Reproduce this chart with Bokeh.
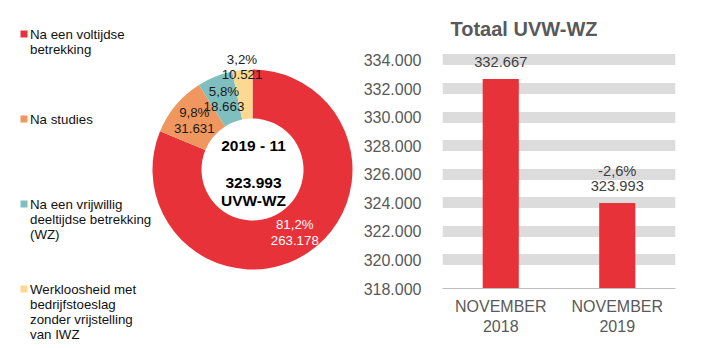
import math
from bokeh.plotting import figure
from bokeh.layouts import row
from bokeh.models import Range1d, FactorRange, FixedTicker, CustomJSTickFormatter
from bokeh.core.properties import value
from bokeh.embed import file_html
from bokeh.resources import INLINE

# ---------------- data ----------------
categories = [
    "Na een voltijdse\nbetrekking",
    "Na studies",
    "Na een vrijwillig\ndeeltijdse betrekking\n(WZ)",
    "Werkloosheid met\nbedrijfstoeslag\nzonder vrijstelling\nvan IWZ",
]
slice_values = [263178, 31631, 18663, 10521]
slice_colors = ["#e8323a", "#f0975f", "#7fbfbf", "#fdd891"]
period_label = "2019 - 11"
unit_label = "UVW-WZ"

bar_categories = ["NOVEMBER\n2018", "NOVEMBER\n2019"]
bar_values = [332667, 323993]
y_ticks = [318000, 320000, 322000, 324000, 326000, 328000, 330000, 332000, 334000]
bar_title = "Totaal UVW-WZ"

FONT = value("Liberation Sans")


def nl(n):
    return f"{n:,}".replace(",", ".")


def pct(f):
    return f"{f * 100:.1f}%".replace(".", ",")


# ---------------- donut ----------------
W1, H = 360, 348
p1 = figure(width=W1, height=H, x_range=Range1d(0, W1), y_range=Range1d(0, H),
            x_axis_type=None, y_axis_type=None, output_backend="svg",
            toolbar_location=None, min_border=0)
p1.frame_align = False
p1.grid.visible = False
p1.outline_line_color = None

cx, cy = 252, H - 169
total = sum(slice_values)
fracs = [v / total for v in slice_values]
starts, ends, mids = [], [], []
cum = 0.0
for f in fracs:
    starts.append(math.pi / 2 - 2 * math.pi * cum)
    mids.append(math.pi / 2 - 2 * math.pi * (cum + f / 2))
    cum += f
    ends.append(math.pi / 2 - 2 * math.pi * cum)

p1.annular_wedge(x=cx, y=cy, inner_radius=51, outer_radius=100,
                 inner_radius_units="screen", outer_radius_units="screen",
                 start_angle=starts, end_angle=ends, direction="clock",
                 fill_color=slice_colors, line_color=None)

lx, ly, lcol = [], [], []
for f, a in zip(fracs, mids):
    r = 103 if f < 0.04 else 76
    lx.append(cx + r * math.cos(a))
    ly.append(cy + r * math.sin(a))
    lcol.append("#ffffff" if f > 0.5 else "#1a1a1a")

p1.text(x=lx, y=[y + 7.7 for y in ly], text=[pct(f) for f in fracs],
        text_align="center", text_baseline="middle", text_font=FONT,
        text_font_size="13.3px", text_color=lcol)
p1.text(x=lx, y=[y - 7.7 for y in ly], text=[nl(v) for v in slice_values],
        text_align="center", text_baseline="middle", text_font=FONT,
        text_font_size="13.3px", text_color=lcol)

p1.text(x=[253, 253, 253], y=[H - 145, H - 182.5, H - 200],
        text=[period_label, nl(total), unit_label],
        text_align="center", text_baseline="middle", text_font=FONT,
        text_font_size="15.5px", text_font_style="bold", text_color="#000000")

# legend
sq_x, sq_y, sq_c = [], [], []
tx, ty, tt = [], [], []
for i, cat in enumerate(categories):
    y0 = 33.5 + i * 85
    sq_x.append(23.5)
    sq_y.append(H - y0)
    sq_c.append(slice_colors[i])
    for j, line in enumerate(cat.split("\n")):
        tx.append(29.5)
        ty.append(H - (y0 + j * 15.3))
        tt.append(line)
p1.scatter(x=sq_x, y=sq_y, marker="square", size=7, fill_color=sq_c, line_color=None)
p1.text(x=tx, y=ty, text=tt, text_align="left", text_baseline="middle",
        text_font=FONT, text_font_size="13.3px", text_color="#111111")

# ---------------- bars ----------------
y_min = y_ticks[0]
p2 = figure(width=708 - W1, height=H, x_range=FactorRange(*bar_categories),
            y_range=Range1d(y_min, 334800), output_backend="svg",
            toolbar_location=None, min_border_left=79, min_border_right=33,
            min_border_bottom=60, min_border_top=48)
p2.frame_align = False
p2.outline_line_color = None
p2.xgrid.visible = False
p2.ygrid.ticker = FixedTicker(ticks=y_ticks[1:])
p2.ygrid.grid_line_width = 11
p2.ygrid.grid_line_color = "#dcdcdc"

p2.vbar(x=bar_categories, top=bar_values, bottom=y_min, width=0.31,
        fill_color="#e8323a", line_color=None)

p2.text(x=bar_categories, y=bar_values, text=[nl(v) for v in bar_values],
        y_offset=-17, text_align="center", text_baseline="alphabetic",
        text_font=FONT, text_font_size="14.7px", text_color="#404040")
change = (bar_values[1] - bar_values[0]) / bar_values[0]
p2.text(x=[bar_categories[1]], y=[bar_values[1]], text=[pct(change)],
        y_offset=-32, text_align="center", text_baseline="alphabetic",
        text_font=FONT, text_font_size="14.7px", text_color="#404040")

p2.yaxis.ticker = FixedTicker(ticks=y_ticks)
p2.yaxis.formatter = CustomJSTickFormatter(
    code="return tick.toFixed(0).replace(/\\B(?=(\\d{3})+(?!\\d))/g, '.');")
p2.yaxis.axis_line_color = None
p2.yaxis.major_tick_line_color = None
p2.yaxis.minor_tick_line_color = None
p2.yaxis.major_label_standoff = 15
p2.yaxis.major_label_text_font = "Liberation Sans"
p2.yaxis.major_label_text_font_size = "16px"
p2.yaxis.major_label_text_color = "#595959"

p2.xaxis.axis_line_color = "#bfbfbf"
p2.xaxis.major_tick_line_color = None
p2.xaxis.minor_tick_line_color = None
p2.xaxis.major_label_standoff = 3
p2.xaxis.major_label_text_font = "Liberation Sans"
p2.xaxis.major_label_text_font_size = "16px"
p2.xaxis.major_label_text_color = "#595959"

p2.title.text = bar_title
p2.title.align = "left"
p2.title.offset = 8
p2.title.standoff = 17
p2.title.text_font = "Liberation Sans"
p2.title.text_font_size = "20px"
p2.title.text_font_style = "bold"
p2.title.text_color = "#595959"

layout = row(p1, p2)
open("out.html", "w").write(file_html(layout, INLINE))
